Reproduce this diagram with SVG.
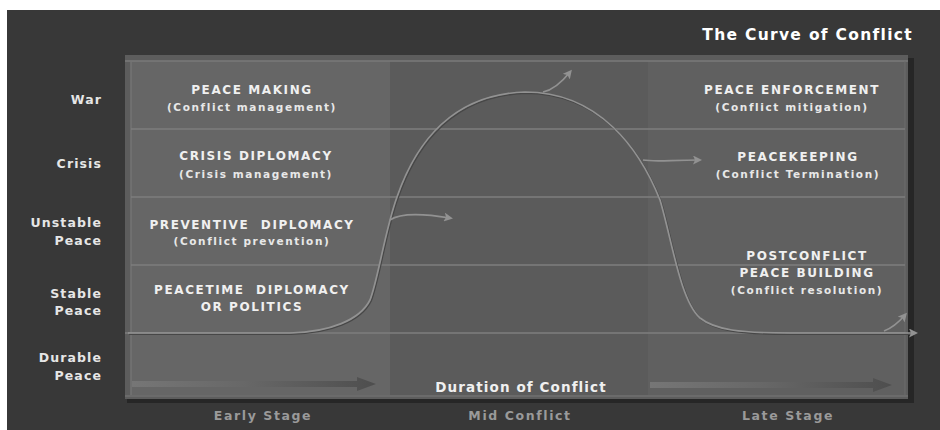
<svg xmlns="http://www.w3.org/2000/svg" width="940" height="430" viewBox="0 0 940 430">
<defs>
<style>
.lbl{font-family:"DejaVu Sans",Verdana,sans-serif;font-weight:bold;font-size:12.5px;fill:#e6e6e6;text-anchor:end;letter-spacing:1.1px}
.h{font-family:"DejaVu Sans",Verdana,sans-serif;font-weight:bold;font-size:12px;fill:#f0f0f0;text-anchor:middle;letter-spacing:1.6px;white-space:pre}
.s{font-family:"DejaVu Sans",Verdana,sans-serif;font-weight:bold;font-size:10.5px;fill:#e8e8e8;text-anchor:middle;letter-spacing:1.6px}
.stage{font-family:"DejaVu Sans",Verdana,sans-serif;font-weight:bold;font-size:12.5px;fill:#9a9a9a;text-anchor:middle;letter-spacing:1.6px}
.row{stroke:#7e7e7e;stroke-width:1.5}
.curve{fill:none;stroke:#929292;stroke-width:1.7}
.shadow{fill:none;stroke:#474747;stroke-width:1.6}
</style>
<marker id="ah" markerWidth="9" markerHeight="9" refX="6" refY="4.5" orient="auto" markerUnits="userSpaceOnUse">
<path d="M0,0 L9,4.5 L0,9 L2,4.5 Z" fill="#929292"/>
</marker>
<linearGradient id="ga" x1="0" x2="1" y1="0" y2="0">
<stop offset="0" stop-color="#767676"/>
<stop offset="0.45" stop-color="#686868"/>
<stop offset="1" stop-color="#4e4e4e"/>
</linearGradient>
</defs>
<rect x="0" y="0" width="940" height="430" fill="#ffffff"/>
<rect x="7" y="10" width="933" height="420" fill="#383838"/>
<g id="title"><text x="913" y="40" font-family="DejaVu Sans, Verdana, sans-serif" font-weight="bold" font-size="15.5px" fill="#ffffff" text-anchor="end" letter-spacing="1.3">The Curve of Conflict</text></g>
<g id="panel">
<rect x="127" y="58" width="787" height="345" fill="#262626"/>
<rect x="125" y="55" width="783" height="344" fill="#5d5d5d"/>
<rect x="131" y="61" width="259" height="334" fill="#666666"/>
<rect x="390" y="61" width="258" height="334" fill="#5b5b5b"/>
<rect x="648" y="61" width="257" height="334" fill="#606060"/>
<line x1="125" y1="61" x2="908" y2="61" stroke="#7a7a7a" stroke-width="1.5"/>
<line x1="131" y1="61" x2="131" y2="395" stroke="#747474" stroke-width="1.5"/>
<line x1="125" y1="396" x2="908" y2="396" stroke="#717171" stroke-width="1.5"/>
<line x1="905" y1="61" x2="905" y2="396" stroke="#6c6c6c" stroke-width="1"/>
<line class="row" x1="131" y1="129" x2="905" y2="129"/>
<line class="row" x1="131" y1="197" x2="905" y2="197"/>
<line class="row" x1="131" y1="265" x2="905" y2="265"/>
<line class="row" x1="125" y1="333" x2="905" y2="333"/>
</g>
<g id="levels">
<text class="lbl" x="102" y="104">War</text>
<text class="lbl" x="102" y="168">Crisis</text>
<text class="lbl" x="102" y="227">Unstable</text>
<text class="lbl" x="102" y="245">Peace</text>
<text class="lbl" x="102" y="298">Stable</text>
<text class="lbl" x="102" y="315">Peace</text>
<text class="lbl" x="102" y="362">Durable</text>
<text class="lbl" x="102" y="380">Peace</text>
</g>
<g id="peace-making"><text class="h" x="252" y="94">PEACE MAKING</text><text class="s" x="252" y="111">(Conflict management)</text></g>
<g id="crisis-diplomacy"><text class="h" x="256" y="160">CRISIS DIPLOMACY</text><text class="s" x="256" y="178">(Crisis management)</text></g>
<g id="preventive-diplomacy"><text class="h" x="252" y="229" xml:space="preserve">PREVENTIVE  DIPLOMACY</text><text class="s" x="252" y="245">(Conflict prevention)</text></g>
<g id="peacetime-diplomacy"><text class="h" x="252" y="294" xml:space="preserve">PEACETIME  DIPLOMACY</text><text class="h" x="252" y="311">OR POLITICS</text></g>
<g id="peace-enforcement"><text class="h" x="792" y="94">PEACE ENFORCEMENT</text><text class="s" x="792" y="111">(Conflict mitigation)</text></g>
<g id="peacekeeping"><text class="h" x="798" y="161">PEACEKEEPING</text><text class="s" x="798" y="178">(Conflict Termination)</text></g>
<g id="postconflict"><text class="h" x="807" y="260">POSTCONFLICT</text><text class="h" x="807" y="277">PEACE BUILDING</text><text class="s" x="807" y="294">(Conflict resolution)</text></g>
<g id="connectors">
<path class="shadow" transform="translate(1,1.2)" d="M128 333 L290 333 C330 332 360 320 370 300 C378 280 385 230 397 197 C410 160 440 95 525 92 C600 92 640 150 660 200 C672 240 680 300 700 318 C715 330 740 333 790 333 L912 333"/>
<path class="curve" d="M128 333 L290 333 C330 332 360 320 370 300 C378 280 385 230 397 197 C410 160 440 95 525 92 C600 92 640 150 660 200 C672 240 680 300 700 318 C715 330 740 333 790 333 L915 333" marker-end="url(#ah)"/>
<path class="curve" d="M390 220 C400 213 420 213 450 218" marker-end="url(#ah)"/>
<path class="curve" d="M543 92 C553 90 562 82 570 72" marker-end="url(#ah)"/>
<path class="curve" d="M643 160 C655 162 670 160 699 160" marker-end="url(#ah)"/>
<path class="curve" d="M884 331 C892 328 899 322 905 315" marker-end="url(#ah)"/>
<path d="M132 381 L357 381 L357 377 L376 384 L357 391 L357 387 L132 387 Z" fill="url(#ga)"/>
<path d="M650 382 L873 382 L873 378 L892 385 L873 392 L873 388 L650 388 Z" fill="url(#ga)"/>
</g>
<g id="axis">
<text x="521" y="392" font-family="DejaVu Sans, Verdana, sans-serif" font-weight="bold" font-size="13.5px" fill="#f0f0f0" text-anchor="middle" letter-spacing="1.1">Duration of Conflict</text>
<text class="stage" x="263" y="420">Early Stage</text>
<text class="stage" x="520" y="420">Mid Conflict</text>
<text class="stage" x="788" y="420">Late Stage</text>
</g>
</svg>
